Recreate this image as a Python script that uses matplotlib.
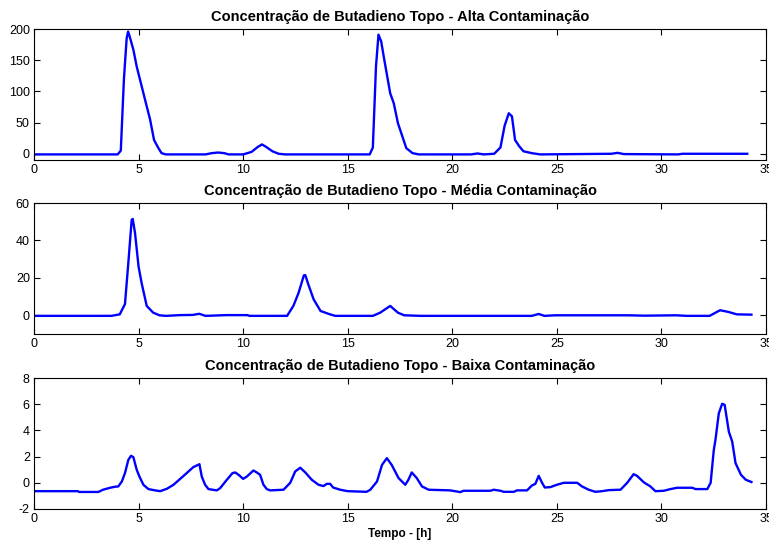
import numpy as np
import matplotlib
matplotlib.use("Agg")
import matplotlib.pyplot as plt

plt.rcParams['font.family'] = ['Liberation Sans', 'DejaVu Sans']
plt.rcParams['axes.unicode_minus'] = False

# traced points: time [h] and concentration
t_alta = [0, 4.0, 4.15, 4.3, 4.43, 4.5, 4.6, 4.75, 4.91, 5.15, 5.39, 5.55, 5.74, 5.95, 6.1, 6.3,
          8.2, 8.5, 8.8, 9.1, 9.3, 10.0, 10.4, 10.7, 10.9, 11.1, 11.4, 11.7, 12.0,
          16.05, 16.2, 16.35, 16.47, 16.6, 16.72, 17.03, 17.2, 17.4, 17.67, 17.8, 18.1, 18.4,
          20.9, 21.2, 21.5, 22.0, 22.3, 22.5, 22.7, 22.85, 23.0, 23.2, 23.4, 23.8, 24.2,
          27.6, 27.9, 28.2, 30.8, 31.0, 34.1]
c_alta = [-1, -1, 5, 120, 185, 196, 185, 167, 140, 108, 76, 55, 22, 9, 1, -1,
          -1, 1, 2, 1, -1, -1, 3, 11, 15, 11, 4, 0, -1,
          -1, 10, 140, 191, 180, 156, 97, 81, 49, 22, 9, 1, -1,
          -1, 0.5, -1, 0, 10, 45, 65, 60, 22, 12, 4, 1, -1,
          0, 1.5, -0.5, -1, 0, 0]

t_media = [0, 3.7, 4.1, 4.35, 4.51, 4.67, 4.72, 4.83, 5.0, 5.15, 5.39, 5.7, 6.0, 6.3,
           7.0, 7.6, 7.9, 8.2, 9.2, 10.2, 10.3,
           12.1, 12.4, 12.65, 12.9, 12.97, 13.1, 13.37, 13.7, 14.1, 14.4,
           16.2, 16.55, 17.03, 17.4, 17.7, 18.5,
           23.8, 24.13, 24.4, 24.9, 26.4, 28.4, 29.2, 30.7, 31.2,
           32.3, 32.8, 33.2, 33.6, 34.3]
c_media = [-0.3, -0.3, 0.5, 6, 28, 51, 51.5, 44, 26, 17, 5, 1.4, 0, -0.3,
           0.1, 0.2, 0.8, -0.3, 0.1, 0.1, -0.3,
           -0.3, 5, 12, 21.3, 21.5, 17, 8.5, 2.3, 0.7, -0.3,
           -0.3, 1.4, 5, 1.4, 0, -0.3,
           -0.3, 0.7, -0.3, 0, 0, 0, -0.2, 0, -0.3,
           -0.3, 2.7, 1.8, 0.5, 0.35]

t_baixa = [0, 2.1, 2.15, 3.08, 3.3, 3.64, 3.88, 4.03, 4.2, 4.35, 4.51, 4.64, 4.75, 4.91, 5.04,
           5.23, 5.47, 5.79, 6.03, 6.35, 6.67, 6.99, 7.3, 7.62, 7.91, 8.02, 8.18, 8.34,
           8.74, 8.9, 9.22, 9.49, 9.62, 9.78, 10.0, 10.18, 10.49, 10.65, 10.81, 10.97,
           11.13, 11.29, 11.93, 12.25, 12.49, 12.73, 12.97, 13.28, 13.6, 13.84, 14.0,
           14.16, 14.3, 14.64, 15.0, 15.9, 16.08, 16.4, 16.64, 16.87, 17.1, 17.43, 17.75,
           17.9, 18.06, 18.3, 18.55, 18.87, 19.9, 20.38, 20.54, 21.82, 21.98, 22.3, 22.46,
           22.94, 23.09, 23.57, 23.81, 23.97, 24.13, 24.29, 24.42, 24.69, 25.0, 25.33,
           25.97, 26.2, 26.52, 26.84, 27.16, 27.48, 28.04, 28.36, 28.67, 28.83, 29.16,
           29.47, 29.71, 30.11, 30.43, 30.75, 31.47, 31.63, 32.19, 32.35, 32.5, 32.58,
           32.74, 32.9, 33.02, 33.22, 33.38, 33.54, 33.8, 34.03, 34.3]
c_baixa = [-0.64, -0.64, -0.7, -0.7, -0.53, -0.38, -0.3, -0.28, 0.1, 0.74, 1.75, 2.06, 1.96, 1.0, 0.48,
           -0.15, -0.48, -0.58, -0.64, -0.46, -0.15, 0.3, 0.74, 1.2, 1.42, 0.48, -0.15, -0.48,
           -0.58, -0.41, 0.23, 0.74, 0.79, 0.61, 0.3, 0.48, 0.94, 0.79, 0.61, -0.15,
           -0.48, -0.58, -0.53, 0.0, 0.87, 1.15, 0.79, 0.23, -0.15, -0.25, -0.08,
           -0.08, -0.36, -0.53, -0.64, -0.69, -0.53, 0.1, 1.37, 1.88, 1.37, 0.36, -0.15,
           0.23, 0.79, 0.36, -0.28, -0.53, -0.58, -0.71, -0.61, -0.61, -0.53, -0.61, -0.69,
           -0.69, -0.58, -0.58, -0.2, -0.08, 0.53, 0.0, -0.36, -0.33, -0.15, 0.0,
           0.0, -0.28, -0.53, -0.69, -0.64, -0.56, -0.53, 0.0, 0.66, 0.53, 0.03,
           -0.28, -0.64, -0.61, -0.48, -0.38, -0.38, -0.48, -0.48, 0.0, 2.5, 3.28,
           5.3, 6.03, 5.95, 3.9, 3.15, 1.5, 0.61, 0.23, 0.06]

titles = ['Concentração de Butadieno Topo - Alta Contaminação',
          'Concentração de Butadieno Topo - Média Contaminação',
          'Concentração de Butadieno Topo - Baixa Contaminação']
ylims = [(-10, 200), (-10, 60), (-2, 8)]
yticks = [[0, 50, 100, 150, 200], [0, 20, 40, 60], [-2, 0, 2, 4, 6, 8]]
series = [(t_alta, c_alta), (t_media, c_media), (t_baixa, c_baixa)]
bottoms = [0.708, 0.3905, 0.0712]

fig = plt.figure(figsize=(7.69, 5.48), dpi=100)
for i in range(3):
    ax = fig.add_axes([0.0442, bottoms[i], 0.952, 0.239])
    t, c = series[i]
    ax.plot(t, c, color='#0000ff', lw=1.7)
    ax.set_xlim(0, 35)
    ax.set_ylim(*ylims[i])
    ax.set_xticks(np.arange(0, 36, 5))
    ax.set_yticks(yticks[i])
    ax.tick_params(direction='in', top=True, right=True, labelsize=9, length=4, width=0.8, pad=3)
    for s in ax.spines.values():
        s.set_linewidth(0.8)
    ax.set_title(titles[i], fontsize=10.5, fontweight='bold', pad=6)
    if i == 2:
        ax.set_xlabel('Tempo - [h]', fontsize=8.5, fontweight='bold', labelpad=2)

fig.savefig('out.png', dpi=100)
